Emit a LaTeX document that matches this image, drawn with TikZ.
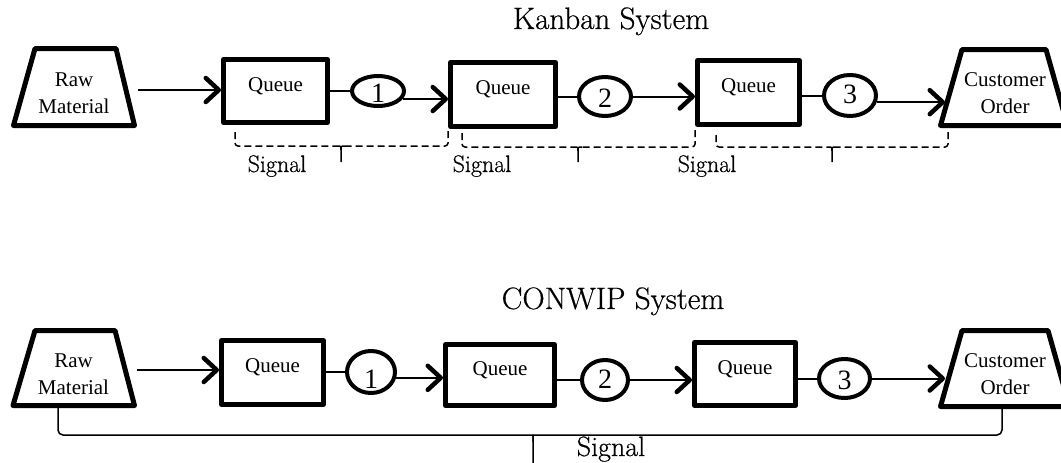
\documentclass[tikz,border=0pt]{standalone}
\usepackage{fontspec}
\newfontfamily\tnr{Liberation Serif}
\newfontfamily\cmb[FakeBold=0.5]{Latin Modern Roman}
\usetikzlibrary{arrows.meta,shapes.geometric}
\begin{document}
\begin{tikzpicture}[x=1pt,y=-1pt,
  line join=round,
  box/.style={draw, rectangle, line width=5pt, inner sep=0pt,
    font=\tnr\fontsize{21}{25}\selectfont, text height=14pt, text depth=14pt},
  trapline/.style={draw, line width=5pt},
  traptext/.style={align=center, inner sep=0pt, font=\tnr\fontsize{21}{27}\selectfont},
  num/.style={draw, ellipse, line width=4pt, inner sep=0pt,
    font=\tnr\fontsize{28}{30}\selectfont, text height=0pt, text depth=0pt},
  conn/.style={line width=2pt},
  arr/.style={line width=2pt, -{Straight Barb[length=13pt,width=24pt,line width'=4.5pt,round]}},
  sig/.style={line width=1.5pt, dash pattern=on 7pt off 4pt},
  sigtick/.style={line width=1.5pt},
  sol/.style={line width=1.5pt},
  title/.style={anchor=base, font=\cmb\fontsize{31}{36}\selectfont},
  siglab/.style={anchor=base, font=\cmb\fontsize{24}{28}\selectfont}
]
\useasboundingbox (0,0) rectangle (1061,463);

% ---------------- Kanban ----------------
\node[title] (tk) at (611,29) {Kanban System};

\draw[trapline] (35,48.5) -- (116,48.5) -- (134.5,125.5) -- (13.5,125.5) -- cycle;
\node[traptext] (rawA) at (74,93) {Raw\\Material};
\coordinate (rawAout) at (138,90);

\node[box, minimum width=104pt, minimum height=63pt] (qa1) at (275.5,91) {Queue};
\node[num, minimum width=52pt, minimum height=30pt] (ca1) at (378,91) {\raisebox{-11.5pt}{1}};
\node[box, minimum width=105pt, minimum height=64pt] (qa2) at (503,94.5) {Queue};
\node[num, minimum width=52pt, minimum height=39pt] (ca2) at (605,96.5) {\raisebox{-11pt}{2}};
\node[box, minimum width=102pt, minimum height=64pt] (qa3) at (748.5,92.5) {Queue};
\node[num, minimum width=52pt, minimum height=41pt] (ca3) at (850,95.5) {\raisebox{-8pt}{3}};

\draw[trapline] (962,49.5) -- (1046,49.5) -- (1067.5,125.5) -- (940.5,125.5) -- cycle;
\node[traptext] (custA) at (1005,93.5) {Customer\\Order};
\coordinate (custAin) at (945,102);

\draw[arr] (rawAout) -- (rawAout -| qa1.west);
\draw[conn] (qa1.east |- ca1.west) -- (ca1.west);
\draw[arr] (ca1.-18) -- (ca1.-18 -| qa2.west);
\draw[conn] (qa2.east |- ca2.west) -- (ca2.west);
\draw[arr] (ca2.east) -- (ca2.east -| qa3.west);
\draw[conn] (qa3.east |- ca3.west) -- (ca3.west);
\draw[arr] (ca3.-14) -- (ca3.-14 -| custAin);

% dashed signal braces
\draw[sig, rounded corners=3pt] (235,132) -- (235,146) -- (337,146);
\draw[sig, rounded corners=3pt] (448,131) -- (448,146) -- (345,146);
\draw[sigtick] (337,146) .. controls (341,146) .. (341,150) -- (341,162);
\draw[sigtick] (345,146) .. controls (341,146) .. (341,150);

\draw[sig, rounded corners=3pt] (462,133) -- (462,147) -- (574,147);
\draw[sig, rounded corners=3pt] (695,130) -- (695,147) -- (582,147);
\draw[sigtick] (574,147) .. controls (578,147) .. (578,151) -- (578,162);
\draw[sigtick] (582,147) .. controls (578,147) .. (578,151);

\draw[sig, rounded corners=3pt] (716,135) -- (716,147) -- (828,147);
\draw[sig, rounded corners=3pt] (948,132) -- (948,147) -- (836,147);
\draw[sigtick] (828,147) .. controls (832,147) .. (832,151) -- (832,162);
\draw[sigtick] (836,147) .. controls (832,147) .. (832,151);

\node[siglab] (s1) at (277,172) {Signal};
\node[siglab] (s2) at (482,172) {Signal};
\node[siglab] (s3) at (707,172) {Signal};

% ---------------- CONWIP ----------------
\node[title] (tc) at (613,309) {CONWIP System};

\draw[trapline] (35,330.5) -- (115,330.5) -- (134.5,405.5) -- (13,405.5) -- cycle;
\node[traptext] (rawB) at (73.5,374) {Raw\\Material};
\coordinate (rawBout) at (137,370);

\node[box, minimum width=102pt, minimum height=64pt] (qb1) at (272.5,372.5) {Queue};
\node[num, minimum width=48pt, minimum height=42pt] (cb1) at (371,372) {\raisebox{-16pt}{1}};
\node[box, minimum width=109pt, minimum height=61pt] (qb2) at (500,375) {Queue};
\node[num, minimum width=46pt, minimum height=40pt] (cb2) at (605,380) {\raisebox{-8pt}{2}};
\node[box, minimum width=101pt, minimum height=63pt] (qb3) at (745,374) {Queue};
\node[num, minimum width=51pt, minimum height=39pt] (cb3) at (844.5,378.5) {\raisebox{-11pt}{3}};

\draw[trapline] (962,330.5) -- (1048,330.5) -- (1069.5,406.5) -- (940.5,406.5) -- cycle;
\node[traptext] (custB) at (1005,374.5) {Customer\\Order};
\coordinate (custBin) at (945,379);

\draw[arr] (rawBout) -- (rawBout -| qb1.west);
\draw[conn] (qb1.east |- cb1.west) -- (cb1.west);
\draw[arr] (cb1.-13) -- (cb1.-13 -| qb2.west);
\draw[conn] (qb2.east |- cb2.west) -- (cb2.west);
\draw[arr] (cb2.east) -- (cb2.east -| qb3.west);
\draw[conn] (qb3.east |- cb3.west) -- (cb3.west);
\draw[arr] (cb3.east) -- (cb3.east -| custBin);

% solid signal brace
\draw[sol, rounded corners=5pt] (58,408) -- (58,435) -- (528,435) .. controls (533,435) .. (533,442) -- (533,463);
\draw[sol, rounded corners=5pt] (1002,409) -- (1002,435) -- (538,435) .. controls (533,435) .. (533,442);

\node[anchor=base, font=\cmb\fontsize{28}{32}\selectfont] (s4) at (611,456) {Signal};
\end{tikzpicture}
\end{document}
